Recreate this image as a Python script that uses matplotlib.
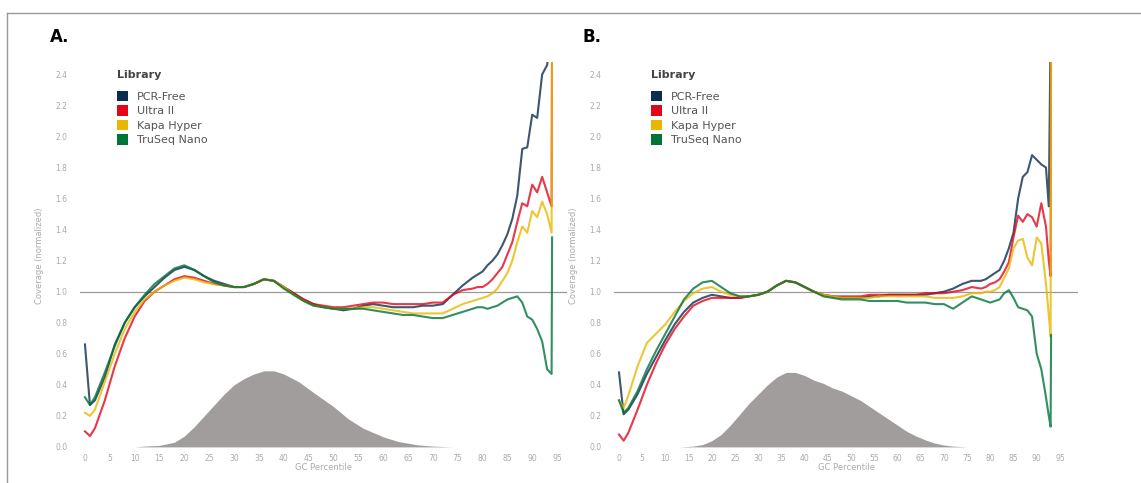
import matplotlib
matplotlib.use("Agg")
import matplotlib.pyplot as plt
from matplotlib.patches import Patch
from matplotlib.lines import Line2D

# ---- data ----
libraries = ["PCR-Free", "Ultra II", "Kapa Hyper", "TruSeq Nano"]
colors = ["#0c2d4e", "#e3061b", "#e8b800", "#00733a"]

gc_a = [0, 1, 2, 4, 6, 8, 10, 12, 14, 16, 18, 20, 22, 24, 26, 28, 30, 32, 34, 36, 38,
        40, 42, 44, 46, 48, 50, 52, 54, 56, 58, 60, 62, 64, 66, 68, 70, 72, 74, 76, 78,
        79, 80, 81, 82, 83, 84, 85, 86, 87, 88, 89, 90, 91, 92, 93, 93.9, 94.0]
pcr_free_a = [0.66, 0.27, 0.30, 0.45, 0.66, 0.80, 0.90, 0.97, 1.03, 1.09, 1.14, 1.16, 1.14, 1.10,
              1.07, 1.05, 1.03, 1.03, 1.05, 1.08, 1.07, 1.03, 0.99, 0.95, 0.92, 0.90, 0.89, 0.88,
              0.89, 0.91, 0.92, 0.91, 0.90, 0.90, 0.90, 0.91, 0.91, 0.92, 0.98, 1.04, 1.09,
              1.11, 1.13, 1.17, 1.20, 1.24, 1.30, 1.37, 1.47, 1.62, 1.92, 1.93, 2.14, 2.12,
              2.40, 2.46, 2.70, 2.80]
ultra_a = [0.10, 0.07, 0.12, 0.30, 0.52, 0.70, 0.84, 0.94, 1.00, 1.04, 1.08, 1.10, 1.09, 1.07,
           1.05, 1.04, 1.03, 1.03, 1.05, 1.08, 1.07, 1.03, 0.99, 0.95, 0.92, 0.91, 0.90, 0.90,
           0.91, 0.92, 0.93, 0.93, 0.92, 0.92, 0.92, 0.92, 0.93, 0.93, 0.98, 1.01, 1.02,
           1.03, 1.03, 1.05, 1.08, 1.12, 1.16, 1.24, 1.32, 1.45, 1.57, 1.55, 1.69, 1.64,
           1.74, 1.64, 1.55, 2.80]
kapa_a = [0.22, 0.20, 0.24, 0.42, 0.60, 0.76, 0.87, 0.95, 1.00, 1.04, 1.07, 1.09, 1.08, 1.06,
          1.05, 1.04, 1.03, 1.03, 1.05, 1.08, 1.07, 1.03, 0.98, 0.94, 0.91, 0.90, 0.89, 0.89,
          0.89, 0.90, 0.90, 0.89, 0.88, 0.87, 0.86, 0.86, 0.86, 0.86, 0.89, 0.92, 0.94,
          0.95, 0.96, 0.97, 0.99, 1.02, 1.07, 1.12, 1.20, 1.32, 1.42, 1.38, 1.52, 1.48,
          1.58, 1.50, 1.38, 2.80]
truseq_a = [0.32, 0.27, 0.32, 0.48, 0.65, 0.80, 0.90, 0.98, 1.05, 1.10, 1.15, 1.17, 1.14, 1.10,
            1.06, 1.04, 1.03, 1.03, 1.05, 1.08, 1.07, 1.02, 0.98, 0.94, 0.91, 0.90, 0.89, 0.89,
            0.89, 0.89, 0.88, 0.87, 0.86, 0.85, 0.85, 0.84, 0.83, 0.83, 0.85, 0.87, 0.89,
            0.90, 0.90, 0.89, 0.90, 0.91, 0.93, 0.95, 0.96, 0.97, 0.93, 0.84, 0.82, 0.76,
            0.68, 0.50, 0.47, 1.35]

gc_b = [0, 1, 2, 4, 6, 8, 10, 12, 14, 16, 18, 20, 22, 24, 26, 28, 30, 32, 34, 36, 38,
        40, 42, 44, 46, 48, 50, 52, 54, 56, 58, 60, 62, 64, 66, 68, 70, 72, 74, 76, 78,
        79, 80, 81, 82, 83, 84, 85, 86, 87, 88, 89, 90, 91, 92, 92.6, 93.0, 93.1]
pcr_free_b = [0.48, 0.21, 0.24, 0.34, 0.47, 0.58, 0.69, 0.79, 0.87, 0.93, 0.96, 0.98, 0.97, 0.96,
              0.96, 0.97, 0.98, 1.00, 1.04, 1.07, 1.06, 1.03, 1.00, 0.98, 0.97, 0.96, 0.96, 0.96,
              0.97, 0.97, 0.98, 0.98, 0.98, 0.98, 0.98, 0.99, 1.00, 1.02, 1.05, 1.07, 1.07,
              1.08, 1.10, 1.12, 1.14, 1.20, 1.28, 1.38, 1.60, 1.74, 1.77, 1.88, 1.85, 1.82,
              1.80, 1.55, 2.70, 2.80]
ultra_b = [0.08, 0.04, 0.09, 0.24, 0.40, 0.54, 0.66, 0.76, 0.84, 0.91, 0.94, 0.96, 0.96, 0.96,
           0.96, 0.97, 0.98, 1.00, 1.04, 1.07, 1.06, 1.03, 1.00, 0.98, 0.97, 0.97, 0.97, 0.97,
           0.98, 0.98, 0.98, 0.98, 0.98, 0.98, 0.99, 0.99, 0.99, 1.00, 1.01, 1.03, 1.02,
           1.03, 1.05, 1.06, 1.08, 1.13, 1.19, 1.35, 1.49, 1.45, 1.50, 1.48, 1.42, 1.57,
           1.42, 1.20, 1.10, 2.80]
kapa_b = [0.30, 0.25, 0.33, 0.52, 0.67, 0.73, 0.79, 0.87, 0.94, 0.99, 1.02, 1.03, 1.00, 0.98,
          0.97, 0.97, 0.98, 1.00, 1.04, 1.07, 1.06, 1.03, 1.00, 0.98, 0.97, 0.96, 0.96, 0.96,
          0.96, 0.97, 0.97, 0.97, 0.97, 0.97, 0.97, 0.96, 0.96, 0.96, 0.97, 0.99, 0.99,
          1.00, 1.00, 1.01, 1.03, 1.09, 1.15, 1.28, 1.33, 1.34, 1.22, 1.17, 1.35, 1.31,
          1.05, 0.85, 0.71, 2.80]
truseq_b = [0.30, 0.22, 0.25, 0.36, 0.50, 0.62, 0.73, 0.84, 0.95, 1.02, 1.06, 1.07, 1.03, 0.99,
            0.97, 0.97, 0.98, 1.00, 1.04, 1.07, 1.06, 1.03, 1.00, 0.97, 0.96, 0.95, 0.95, 0.95,
            0.94, 0.94, 0.94, 0.94, 0.93, 0.93, 0.93, 0.92, 0.92, 0.89, 0.93, 0.97, 0.95,
            0.94, 0.93, 0.94, 0.95, 0.99, 1.01, 0.96, 0.90, 0.89, 0.88, 0.84, 0.60, 0.50,
            0.32, 0.20, 0.13, 0.72]

# distribution of windows (grey area)
hist_gc_a = [10, 12, 15, 18, 20, 22, 24, 26, 28, 30, 32, 34, 36, 38, 40, 43, 46, 50, 53,
             56, 60, 63, 67, 70, 74]
hist_a = [0.0, 0.005, 0.01, 0.03, 0.07, 0.13, 0.20, 0.27, 0.34, 0.40, 0.44, 0.47, 0.49,
          0.49, 0.47, 0.42, 0.35, 0.26, 0.18, 0.12, 0.065, 0.035, 0.013, 0.005, 0.0]
hist_gc_b = [13, 16, 18, 20, 22, 24, 26, 28, 30, 32, 34, 36, 38, 40, 42, 44, 46, 48, 50, 52,
             54, 56, 58, 60, 62, 64, 66, 68, 70, 72, 75]
hist_b = [0.0, 0.005, 0.015, 0.04, 0.08, 0.14, 0.21, 0.28, 0.34, 0.40, 0.45, 0.48, 0.48, 0.46,
          0.43, 0.41, 0.38, 0.36, 0.33, 0.30, 0.26, 0.22, 0.18, 0.14, 0.10, 0.07, 0.045, 0.025,
          0.012, 0.005, 0.0]

W, H = 1141, 483
fig = plt.figure(figsize=(W / 100, H / 100), dpi=100)

# thin frame on top and left of the image
fig.add_artist(Line2D([7 / W, 1], [1 - 13 / H, 1 - 13 / H], color="#9a9a9a", lw=1))
fig.add_artist(Line2D([7 / W, 7 / W], [0, 1 - 13 / H], color="#9a9a9a", lw=1))


def panel(rect, xlim, gc, series, hgc, hval, letter, letter_x, leg_x):
    ax = fig.add_axes([rect[0] / W, 1 - rect[3] / H, (rect[2] - rect[0]) / W,
                       (rect[3] - rect[1]) / H])
    ax.fill_between(hgc, 0, hval, color="#a19d9d", lw=0, zorder=1)
    ax.axhline(1.0, color="#9a9a9a", lw=0.9, zorder=2)
    for vals, c in zip(series, colors):
        ax.plot(gc, vals, color=c, lw=1.5, alpha=0.8, zorder=3, solid_joinstyle="round")
    ax.set_xlim(*xlim)
    ax.set_ylim(-0.02, 2.48)
    ax.set_xticks(range(0, 100, 5))
    ax.set_yticks([i * 0.2 for i in range(13)])
    ax.set_yticklabels([f"{i * 0.2:.1f}" for i in range(13)])
    ax.tick_params(length=0, labelsize=5.5, labelcolor="#aaaaaa")
    ax.tick_params(axis="y", pad=9)
    ax.tick_params(axis="x", pad=3)
    for s in ax.spines.values():
        s.set_visible(False)
    ax.set_xlabel("GC Percentile", fontsize=6, color="#aaaaaa", labelpad=0)
    ax.set_ylabel("Coverage (normalized)", fontsize=6, color="#aaaaaa", labelpad=2)
    ax.yaxis.set_label_coords((rect[0] - 36 - rect[0]) / (rect[2] - rect[0]), 0.5)

    handles = [Patch(facecolor=c, edgecolor="none") for c in colors]
    leg = ax.legend(handles, libraries, title="Library", loc="upper left",
                    bbox_to_anchor=((leg_x - rect[0]) / (rect[2] - rect[0]), 1.0),
                    frameon=False, fontsize=8, handlelength=1.05, handleheight=1.05,
                    handletextpad=0.75, labelspacing=0.32, borderaxespad=0.3,
                    alignment="left")
    leg._legend_box.sep = 8
    leg.get_title().set_fontweight("bold")
    leg.get_title().set_fontsize(8)
    leg.get_title().set_color("#444444")
    for t in leg.get_texts():
        t.set_color("#555555")

    fig.text(letter_x / W, 1 - 37 / H, letter, fontsize=12, fontweight="bold",
             family=["Liberation Sans Narrow", "DejaVu Sans"], va="center")
    return ax


panel((80, 62, 567, 450), (-1.0, 97.0), gc_a,
      [pcr_free_a, ultra_a, kapa_a, truseq_a], hist_gc_a, hist_a, "A.", 50, 109)
panel((614, 62, 1078, 450), (-1.08, 98.9), gc_b,
      [pcr_free_b, ultra_b, kapa_b, truseq_b], hist_gc_b, hist_b, "B.", 582, 643)

fig.savefig("out.png", dpi=100)
